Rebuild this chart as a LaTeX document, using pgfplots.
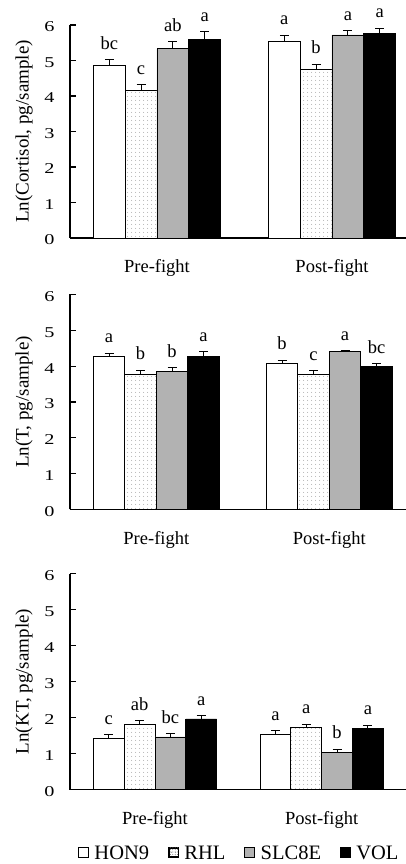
\documentclass[border=0pt]{standalone}
\usepackage{pgfplots}
\pgfplotsset{compat=1.18}
\usepackage{pgfplotstable}
\usepackage{fontspec}
\setmainfont{Liberation Serif}
\usetikzlibrary{patterns.meta}

% ---- Cortisol ----
\pgfplotstableread{
x y err lab
0 4.85 0.17 bc
1 5.54 0.17 a
}\cHON
\pgfplotstableread{
x y err lab
0 4.15 0.17 c
1 4.75 0.15 b
}\cRHL
\pgfplotstableread{
x y err lab
0 5.33 0.20 ab
1 5.72 0.12 a
}\cSLC
\pgfplotstableread{
x y err lab
0 5.60 0.21 a
1 5.75 0.16 a
}\cVOL
% ---- T ----
\pgfplotstableread{
x y err lab
0 4.26 0.10 a
1 4.09 0.08 b
}\tHON
\pgfplotstableread{
x y err lab
0 3.78 0.11 b
1 3.78 0.09 c
}\tRHL
\pgfplotstableread{
x y err lab
0 3.86 0.10 b
1 4.40 0.03 a
}\tSLC
\pgfplotstableread{
x y err lab
0 4.26 0.14 a
1 3.99 0.08 bc
}\tVOL
% ---- KT ----
\pgfplotstableread{
x y err lab
0 1.43 0.09 c
1 1.52 0.11 a
}\kHON
\pgfplotstableread{
x y err lab
0 1.81 0.10 ab
1 1.72 0.10 a
}\kRHL
\pgfplotstableread{
x y err lab
0 1.46 0.09 bc
1 1.03 0.09 b
}\kSLC
\pgfplotstableread{
x y err lab
0 1.96 0.09 a
1 1.69 0.09 a
}\kVOL

\pgfplotsset{
  panel/.style={
    scale only axis, width=336pt,
    ymin=0, ymax=6, ytick={0,1,2,3,4,5,6},
    axis x line*=bottom, axis y line*=left,
    axis line style={line width=1.2pt, -},
    tick align=inside, major tick length=6pt,
    ytick style={line width=1.2pt, black},
    xtick={0,1}, xticklabels={Pre-fight,Post-fight},
    xtick style={draw=none},
    ybar=0pt,
    clip=false,
    /pgf/number format/assume math mode=true,
    yticklabel style={font=\fontsize{15}{17}\selectfont, xscale=1.35, xshift=-8pt, yshift=-2pt},
    xticklabel style={font=\fontsize{18.5}{20}\selectfont, yshift=-12pt},
    every axis y label/.style={at={(axis description cs:0,0.5)}, xshift=-46pt, rotate=90, anchor=center, font=\fontsize{19}{21}\selectfont},
    legend image code/.code={\draw[#1, line width=0.8pt] (0pt,-3.5pt) rectangle (10pt,6.5pt);},
  },
  bars/.style={
    line width=0.8pt,
    error bars/.cd, y dir=plus, y explicit,
      error bar style={line width=0.8pt, black, solid},
      error mark options={rotate=90, line width=0.8pt, mark size=4.5pt, black},
    /pgfplots/.cd,
    nodes near coords, point meta=explicit symbolic,
    visualization depends on={\thisrow{err} \as \myerr},
    nodes near coords style={shift={(axis direction cs:0,\myerr)}, anchor=south, inner sep=2pt, yshift=8pt, font=\fontsize{18.5}{20}\selectfont, text=black},
  },
  sHON/.style={draw=black, fill=white},
  sRHL/.style={draw=black, fill=white, postaction={pattern color=black!45, pattern={Dots[distance=4pt, radius=0.55pt]}},
    legend image code/.code={\draw[draw=black, fill=white, line width=0.8pt] (0pt,-3.5pt) rectangle (10pt,6.5pt);
      \fill[pattern color=black!55, pattern={Dots[distance=2.4pt, radius=0.5pt]}] (0.6pt,-2.9pt) rectangle (9.4pt,5.9pt);}},
  sSLC/.style={draw=black, fill=black!30},
  sVOL/.style={draw=black, fill=black},
}

\begin{document}
\begin{tikzpicture}
\path[use as bounding box] (0pt,0pt) rectangle (406pt,864pt);

% ---------- Cortisol ----------
\begin{axis}[panel, at={(70pt,626pt)}, anchor=south west, height=213pt,
  xmin=-0.497, xmax=1.423, bar width=31.8pt,
  ylabel={Ln(Cortisol, pg/sample)}]
\addplot[sHON, bars] table[x=x, y=y, y error plus=err, meta=lab] {\cHON};
\addplot[sRHL, bars] table[x=x, y=y, y error plus=err, meta=lab] {\cRHL};
\addplot[sSLC, bars] table[x=x, y=y, y error plus=err, meta=lab] {\cSLC};
\addplot[sVOL, bars] table[x=x, y=y, y error plus=err, meta=lab] {\cVOL};
\end{axis}

% ---------- T ----------
\begin{axis}[panel, at={(70pt,354.5pt)}, anchor=south west, height=215pt,
  xmin=-0.499, xmax=1.443, bar width=31.5pt,
  ylabel={Ln(T, pg/sample)}]
\addplot[sHON, bars] table[x=x, y=y, y error plus=err, meta=lab] {\tHON};
\addplot[sRHL, bars] table[x=x, y=y, y error plus=err, meta=lab] {\tRHL};
\addplot[sSLC, bars] table[x=x, y=y, y error plus=err, meta=lab] {\tSLC};
\addplot[sVOL, bars] table[x=x, y=y, y error plus=err, meta=lab] {\tVOL};
\end{axis}

% ---------- KT ----------
\begin{axis}[panel, at={(70pt,74.5pt)}, anchor=south west, height=216pt,
  xmin=-0.51, xmax=1.506, bar width=30.8pt,
  ylabel={Ln(KT, pg/sample)},
  legend columns=4,
  legend style={at={(axis description cs:0.504,-0.298)}, anchor=center, draw=none, fill=none,
    font=\fontsize{20.5}{22}\selectfont,
    /tikz/every odd column/.append style={column sep=3.5pt},
    /tikz/every even column/.append style={column sep=17pt}}]
\addplot[sHON, bars] table[x=x, y=y, y error plus=err, meta=lab] {\kHON};
\addplot[sRHL, bars] table[x=x, y=y, y error plus=err, meta=lab] {\kRHL};
\addplot[sSLC, bars] table[x=x, y=y, y error plus=err, meta=lab] {\kSLC};
\addplot[sVOL, bars] table[x=x, y=y, y error plus=err, meta=lab] {\kVOL};
\legend{HON9,RHL,SLC8E,VOL}
\end{axis}
\end{tikzpicture}
\end{document}
